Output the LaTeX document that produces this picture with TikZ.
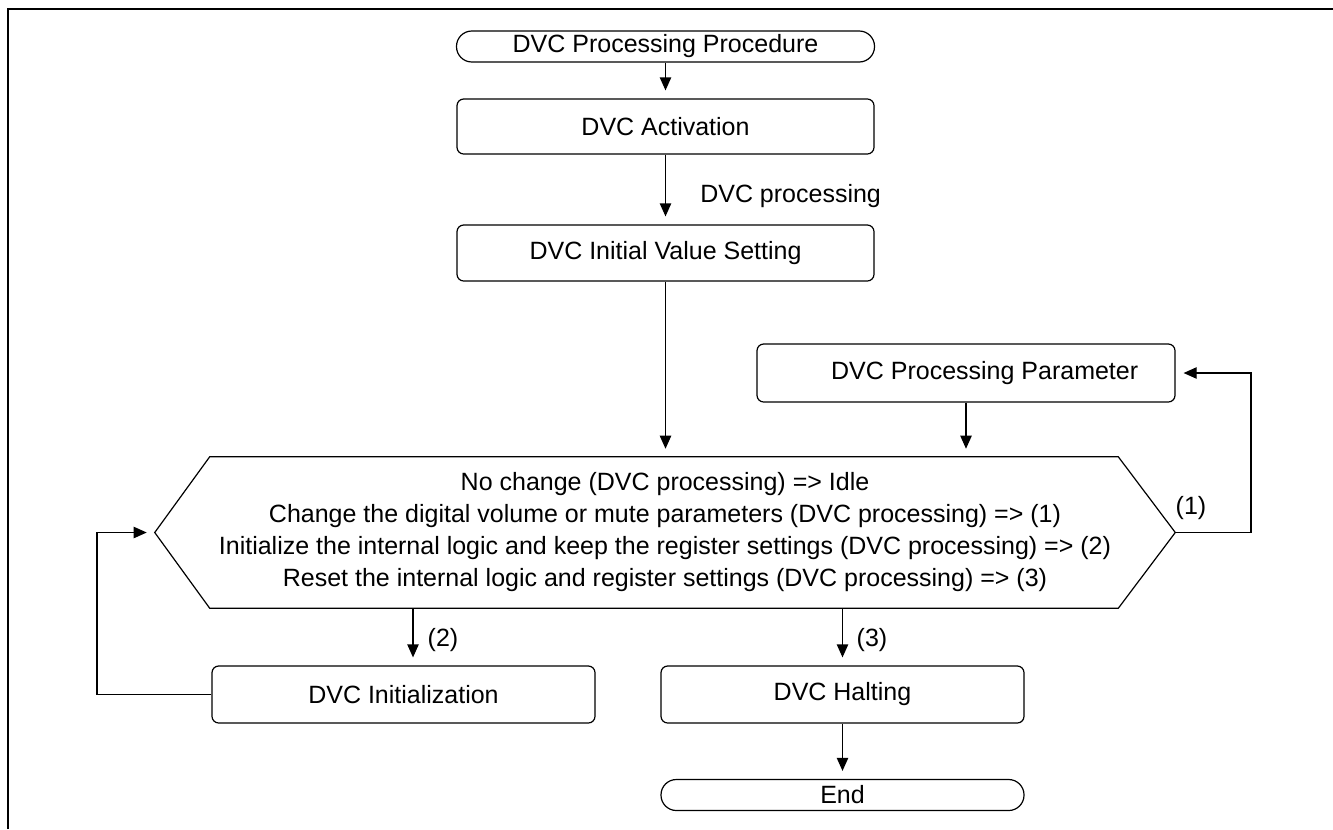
\documentclass[tikz,border=0pt]{standalone}
\usepackage{fontspec}
\setmainfont{Liberation Sans}
\usetikzlibrary{arrows.meta,calc}
\begin{document}
\begin{tikzpicture}[x=0.75pt,y=-0.75pt,
  every node/.style={font=\fontsize{18.75pt}{24pt}\selectfont, inner sep=0pt},
  procbox/.style={draw, line width=0.9pt, rounded corners=5pt, align=center},
  termbox/.style={draw, line width=0.9pt, rounded corners=11.5pt, align=center},
  conn/.style={line width=0.9pt},
  arr/.style={conn, -{Triangle[length=9.75pt,width=8.5pt]}, shorten >=6pt},
  lbl/.style={}
]
\useasboundingbox (0,0) rectangle (1333,829);
% frame
\draw[line width=1.3pt] (8,829) -- (8,9) -- (1333,9);
% nodes
\node[termbox, minimum width=313.5pt, minimum height=23.25pt] (start) at (665.5,46.5) {DVC Processing Procedure};
\node[procbox, minimum width=312.75pt, minimum height=41.25pt] (act) at (665.5,126.5) {DVC Activation};
\node[procbox, minimum width=312.75pt, minimum height=42pt] (ini) at (665.5,253) {DVC Initial Value Setting};
\node[procbox, minimum width=313.5pt, minimum height=43.5pt] (par) at (966,373) {\hspace*{28pt}DVC Processing Parameter};
\node[minimum width=765pt, minimum height=113.25pt, align=center] (hex) at (665,532.5)
  {No change (DVC processing) => Idle\\
   Change the digital volume or mute parameters (DVC processing) => (1)\\
   Initialize the internal logic and keep the register settings (DVC processing) => (2)\\
   Reset the internal logic and register settings (DVC processing) => (3)};
\draw[conn] (hex.west) -- ([xshift=41.25pt]hex.north west) -- ([xshift=-42.75pt]hex.north east)
  -- (hex.east) -- ([xshift=-42.75pt]hex.south east) -- ([xshift=41.25pt]hex.south west) -- cycle;
\node[procbox, minimum width=287.25pt, minimum height=42.75pt] (initb) at (403.5,694.5) {DVC Initialization};
\node[procbox, minimum width=272.25pt, minimum height=42.75pt] (halt) at (842.5,694.5) {DVC Halting};
\node[termbox, minimum width=272.25pt, minimum height=23.25pt] (end) at (842.5,795) {End};
% labels
\node[lbl, anchor=west] (lproc) at (700,196) {DVC processing};
\node[lbl] (l1) at (1191,508) {(1)};
\node[lbl] (l2) at (443,640) {(2)};
\node[lbl] (l3) at (872,640) {(3)};
% connectors
\coordinate (a2) at (413,608);
\coordinate (lx) at (97,0);
\coordinate (rx) at (1251,0);
\draw[arr] (start) -- (act);
\draw[arr] (act) -- (ini);
\draw[arr] (ini) -- (ini.south |- hex.north);
\draw[arr] (par) -- (par.south |- hex.north);
\draw[arr] (hex.east) -- (rx |- hex.east) -- (rx |- par.east) -- (par.east);
\draw[arr] (initb.west) -- (lx |- initb.west) -- (lx |- hex.west) -- (hex.west);
\draw[arr] (a2) -- (a2 |- initb.north);
\draw[arr] (hex.south -| halt.north) -- (halt.north);
\draw[arr] (halt) -- (end);
\end{tikzpicture}
\end{document}
